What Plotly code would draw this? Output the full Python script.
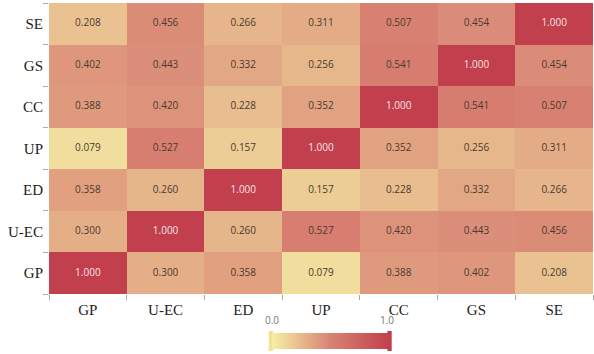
import plotly.graph_objects as go

labels = ["GP", "U-EC", "ED", "UP", "CC", "GS", "SE"]
matrix = [
    [1.000, 0.300, 0.358, 0.079, 0.388, 0.402, 0.208],  # GP
    [0.300, 1.000, 0.260, 0.527, 0.420, 0.443, 0.456],  # U-EC
    [0.358, 0.260, 1.000, 0.157, 0.228, 0.332, 0.266],  # ED
    [0.079, 0.527, 0.157, 1.000, 0.352, 0.256, 0.311],  # UP
    [0.388, 0.420, 0.228, 0.352, 1.000, 0.541, 0.507],  # CC
    [0.402, 0.443, 0.332, 0.256, 0.541, 1.000, 0.454],  # GS
    [0.208, 0.456, 0.266, 0.311, 0.507, 0.454, 1.000],  # SE
]
scale_min, scale_max = 0.0, 1.0
colors = ["#f6efa6", "#d88273", "#c23f4d"]

fig = go.Figure()
fig.add_trace(go.Heatmap(
    x=labels, y=labels, z=matrix,
    zmin=scale_min, zmax=scale_max,
    colorscale=[[0, colors[0]], [0.5, colors[1]], [1, colors[2]]],
    xgap=0, ygap=0, hoverinfo="skip",
    colorbar=dict(
        orientation="h", x=0.518, xanchor="center", y=-0.162, yanchor="middle",
        lenmode="pixels", len=118, thickness=16, xpad=0, ypad=0,
        outlinewidth=0, showticklabels=False, ticks="",
    ),
))

tx, ty, tt, tc = [], [], [], []
for i, rl in enumerate(labels):
    for j, cl in enumerate(labels):
        v = matrix[i][j]
        tx.append(cl); ty.append(rl); tt.append(f"{v:.3f}")
        tc.append("#f4e4e4" if v >= 0.9 else "#4a3a30")
fig.add_trace(go.Scatter(
    x=tx, y=ty, text=tt, mode="text", hoverinfo="skip", showlegend=False,
    textfont=dict(family="Open Sans", size=10, color=tc),
))

for lbl, xp in [(f"{scale_min:.1f}", 0.41), (f"{scale_max:.1f}", 0.621)]:
    fig.add_annotation(text=lbl, x=xp, y=-0.089, xref="paper", yref="paper",
                       showarrow=False, xanchor="center", yanchor="middle",
                       font=dict(family="Open Sans", size=10, color="#777"))

# visualMap-style end handles
for x0, x1, col in [(0.404, 0.412, "#f1e392"), (0.622, 0.630, "#c23f4d")]:
    fig.add_shape(type="rect", xref="paper", yref="paper",
                  x0=x0, x1=x1, y0=-0.196, y1=-0.127,
                  fillcolor=col, line=dict(width=0), layer="above")

cat_range = [-0.5, len(labels) - 0.5]
axis_common = dict(
    type="category", tickson="boundaries", ticks="outside", ticklen=5,
    tickcolor="#aaa", showline=False, showgrid=False, zeroline=False,
    automargin=False, range=cat_range, ticklabelstandoff=5,
    tickfont=dict(family="Liberation Serif", size=15, color="#222"),
)
fig.update_layout(
    width=594, height=354,
    margin=dict(l=49, r=1, t=3, b=60, autoexpand=False),
    plot_bgcolor="white", paper_bgcolor="white",
    xaxis=dict(**axis_common, categoryorder="array", categoryarray=labels),
    yaxis=dict(**axis_common, categoryorder="array", categoryarray=labels),
    showlegend=False,
)
fig.write_html("out.html", config={"displayModeBar": False},
               post_script="document.body.style.margin='0';")
